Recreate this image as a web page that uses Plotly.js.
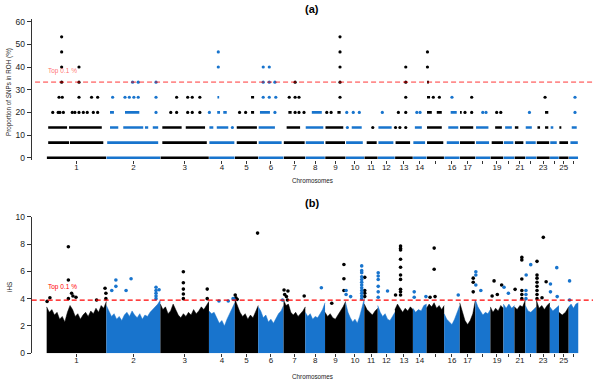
<!DOCTYPE html>
<html>
<head>
<meta charset="utf-8">
<script src="https://cdn.plot.ly/plotly-3.0.1.min.js"></script>
<style>
  body { margin: 0; background: #fff; }
  #plot { width: 600px; height: 382px; }
</style>
</head>
<body>
<div id="plot"></div>
<script>
// Chromosomes (sheep autosomes), lengths in Mb
const chroms = ['1','2','3','4','5','6','7','8','9','10','11','12','13','14','15','16','17','18','19','20','21','22','23','24','25','26'];
const chromLen = [275, 249, 224, 119, 108, 117, 100, 91, 95, 86, 62, 79, 83, 63, 81, 72, 72, 69, 60, 51, 50, 51, 62, 42, 45, 44];
const tickText = ['1','2','3','4','5','6','7','8','9','10','11','12','13','14','','16','17','','19','','21','','23','','25',''];

// (a) ROH proportion levels (%) and runs of SNPs at each level, [start, end] in cumulative Mb
const roh0 = [[1,274],[276,523],[525,747],[749,866],[868,974],[976,1091],[1093,1191],[1193,1282],[1284,1377],[1379,1463],[1465,1525],[1527,1604],[1606,1687],[1689,1750],[1752,1831],[1833,1903],[1905,1975],[1977,2044],[2046,2104],[2106,2155],[2157,2205],[2207,2256],[2258,2318],[2320,2360],[2362,2405],[2407,2449]];
const roh667 = [[7,103],[107,261],[279,514],[533,738],[750,865],[876,969],[977,1083],[1093,1189],[1194,1278],[1285,1375],[1380,1457],[1475,1521],[1529,1598],[1608,1675],[1690,1744],[1753,1828],[1844,1901],[1905,1973],[1979,2039],[2051,2103],[2107,2151],[2158,2197],[2208,2254],[2259,2316],[2321,2351],[2363,2403],[2414,2448]];
const roh1333 = [[7,94],[103,254],[292,330],[353,445],[453,468],[489,514],[533,622],[641,730],[750,768],[784,837],[856,856],[876,969],[977,1052],[1106,1168],[1194,1275],[1285,1367],[1386,1386],[1406,1452],[1503,1503],[1529,1590],[1608,1608],[1628,1628],[1655,1655],[1697,1729],[1753,1821],[1851,1897],[1905,1966],[1979,2036],[2067,2098],[2113,2144],[2158,2174],[2208,2236],[2262,2274],[2297,2312],[2323,2335],[2363,2372],[2420,2443]];
const roh20 = [[28,28],[53,53],[61,61],[77,77],[118,118],[130,130],[149,149],[169,169],[187,187],[215,215],[235,235],
  [292,310],[361,427],[504,504],[572,572],[599,599],[650,650],[671,671],[706,706],
  [750,750],[786,799],[814,830],[889,889],[917,917],[942,956],[983,1029],[1052,1052],
  [1114,1129],[1145,1145],[1163,1163],[1186,1186],[1222,1268],[1291,1291],[1311,1311],[1340,1355],
  [1383,1383],[1413,1413],[1441,1441],[1547,1547],[1621,1621],[1655,1655],[1706,1706],[1721,1721],
  [1753,1775],[1798,1821],[1862,1890],[1905,1913],[1928,1928],[1959,1959],[2010,2010],[2025,2025],
  [2074,2074],[2093,2093],[2225,2225],[2297,2312],[2435,2435]];
const roh2667 = [[57,57],[72,72],[149,149],[207,207],[235,235],[304,304],[361,361],[381,381],[402,402],[422,422],[504,504],
  [599,599],[650,650],[671,671],[706,706],[787,795],[942,956],[998,998],[1026,1026],[1056,1056],
  [1118,1118],[1145,1145],[1163,1163],[1352,1352],[1655,1655],[1753,1767],[1782,1782],[1810,1810],
  [1868,1868],[1959,1959],[2297,2297],[2435,2435]];
const roh3333 = [[69,69],[149,149],[396,396],[422,422],[504,504],[998,998],[1026,1026],[1052,1052],[1145,1145],[1352,1352],[1655,1655],[1753,1762]];
const roh40 = [[69,69],[149,149],[791,791],[998,998],[1026,1026],[1352,1352],[1655,1655],[1755,1755]];
const roh4667 = [[69,69],[791,791],[1352,1352],[1755,1755]];
const roh5333 = [[69,69],[1352,1352]];
const rohLevels = [0, 6.67, 13.33, 20, 26.67, 33.33, 40, 46.67, 53.33];
const rohRuns = [roh0, roh667, roh1333, roh20, roh2667, roh3333, roh40, roh4667, roh5333];
const rohTop = 33.33;

// (b) iHS: upper edge of the dense cloud per chromosome (evenly spaced along each chromosome)
const ihsCore = [
  [3.4, 3.0, 3.2, 2.8, 3.0, 2.5, 2.7, 2.3, 3.0, 3.5, 3.2, 2.7, 2.9, 2.5, 2.8, 3.0, 2.7, 3.1, 2.9, 3.3, 3.0, 3.5, 3.3, 3.8],
  [3.5, 3.1, 2.7, 2.9, 2.5, 2.7, 2.4, 2.8, 3.0, 2.7, 3.1, 2.8, 2.6, 2.9, 2.5, 2.8, 2.7, 3.0, 3.2, 3.4, 3.6, 3.9],
  [3.6, 3.2, 3.4, 2.9, 3.1, 3.6, 3.2, 2.8, 2.6, 2.9, 2.7, 3.0, 2.8, 3.2, 2.9, 3.1, 3.4, 3.2, 3.5, 3.8],
  [3.1, 2.9, 3.0, 2.6, 2.2, 2.4, 2.0, 2.5, 2.9, 3.3, 3.7],
  [4.0, 3.5, 3.0, 2.7, 2.9, 2.5, 2.8, 2.6, 3.0, 3.5],
  [3.4, 3.1, 2.6, 2.8, 2.3, 2.5, 2.2, 2.6, 2.9, 3.1, 3.5],
  [3.9, 3.5, 3.6, 3.0, 2.8, 3.0, 2.7, 2.9, 3.1, 3.4],
  [3.0, 2.7, 2.9, 2.5, 2.7, 2.6, 2.9, 3.2, 3.7],
  [3.0, 2.7, 2.9, 2.6, 2.5, 2.8, 3.0, 3.4, 3.8],
  [3.7, 3.0, 2.6, 2.3, 2.5, 2.2, 2.7, 3.3, 4.0],
  [3.6, 3.2, 3.0, 2.8, 3.1, 3.3],
  [3.5, 3.0, 2.7, 2.9, 2.5, 2.4, 2.7, 3.0],
  [3.2, 3.6, 3.3, 3.0, 3.3, 3.1, 3.4, 3.2],
  [3.3, 3.0, 3.2, 3.1, 3.5, 3.6],
  [3.3, 3.6, 3.4, 3.7, 3.3, 3.5, 3.2, 3.5],
  [2.9, 2.5, 2.3, 2.1, 2.5, 3.0, 3.5],
  [3.7, 3.0, 2.4, 2.1, 2.4, 2.9, 3.9],
  [3.9, 3.4, 3.1, 2.8, 3.0, 2.9, 3.2],
  [3.4, 3.0, 3.3, 3.1, 3.5, 3.3],
  [3.6, 3.3, 3.6, 3.3, 3.5],
  [3.4, 3.2, 3.5, 3.4, 3.9],
  [3.5, 3.1, 3.0, 3.2, 3.4],
  [3.9, 3.3, 3.5, 3.2, 3.5, 3.7],
  [3.4, 3.1, 3.3, 3.5],
  [3.0, 2.8, 3.0, 3.4],
  [3.4, 3.6, 3.3, 3.6, 3.7]
];
// iHS outliers above the cloud, [cumulative Mb, iHS]
const ihsPeaks = [
  [2,3.8],[15,4.07],[100,7.8],[100,5.37],[100,4.0],[115,4.4],[121,4.2],[135,4.1],[230,3.9],[269,4.76],[273,4.4],[273,4.0],
  [300,4.6],[319,5.37],[319,4.9],[366,4.6],[389,5.46],[504,4.83],[504,4.6],[504,4.4],[504,4.2],[504,4.0],[518,4.65],
  [630,5.97],[630,5.17],[630,4.7],[630,4.34],[630,4.0],[740,4.7],[740,4.0],
  [794,3.83],[837,3.83],[859,4.0],[863,3.95],
  [869,4.27],[872,4.07],[878,3.95],[972,8.8],
  [1087,3.9],
  [1094,4.63],[1112,4.56],[1097,4.3],[1105,4.15],[1110,3.9],[1187,4.2],
  [1266,4.8],
  [1314,3.66],[1370,6.5],[1370,5.46],[1370,4.6],
  [1380,4.6],[1380,4.3],[1401,4.15],[1452,6.4],[1452,6.05],[1452,5.9],[1452,5.6],[1452,5.4],[1452,5.2],[1452,5.0],[1452,4.8],[1452,4.6],[1452,4.4],[1452,4.2],[1452,4.0],
  [1466,5.56],[1466,4.6],[1466,4.4],[1466,4.15],
  [1528,5.9],[1528,5.66],[1528,5.4],[1528,4.9],[1528,4.5],[1528,4.1],[1571,4.56],
  [1608,4.27],[1631,7.85],[1631,7.68],[1631,7.56],[1631,6.88],[1631,6.3],[1631,5.73],[1631,5.41],[1631,4.68],[1631,4.51],[1631,4.27],
  [1694,4.5],[1694,4.1],[1748,4.15],
  [1786,7.7],[1786,6.15],[1790,4.15],[1767,4.1],
  [1897,4.27],
  [1966,5.5],[1966,5.2],[1966,4.5],
  [1978,5.97],[1978,5.73],[1978,5.0],[2001,4.6],
  [2062,5.3],[2053,4.2],[2077,4.3],[2097,5.0],
  [2108,4.83],[2128,4.4],
  [2159,4.68],[2190,7.02],[2190,6.83],[2190,5.44],[2190,4.6],[2190,4.3],[2190,4.0],
  [2210,5.73],[2231,6.49],[2209,4.6],[2209,4.3],[2209,4.0],
  [2260,6.73],[2260,5.73],[2260,5.5],[2260,5.2],[2260,4.9],[2260,4.6],[2260,4.3],[2260,4.0],[2289,8.49],[2302,5.24],[2283,4.07],
  [2322,5.07],[2322,4.5],[2351,6.27],[2353,4.15],
  [2410,5.3],[2410,3.9]
];
const ihsTop = 3.9;

const BLACK = '#000000';
const BLUE = '#1874CD';
const FONT = 'Liberation Sans, Arial, sans-serif';

// chromosome starts and centres
const chromStart = [];
let acc = 0;
chromLen.forEach(l => { chromStart.push(acc); acc += l; });
const chromMid = chromLen.map((l, i) => chromStart[i] + l / 2);

function chromOf(pos) {
  let i = 0;
  while (i < chromLen.length - 1 && pos >= chromStart[i + 1]) i++;
  return i;
}
const colorOf = pos => (chromOf(pos) % 2 === 0 ? BLACK : BLUE);

const traces = [];

// ---- panel (a)
const segs = { [BLACK]: { x: [], y: [] }, [BLUE]: { x: [], y: [] } };
const pts = { [BLACK]: { x: [], y: [] }, [BLUE]: { x: [], y: [] } };
rohRuns.forEach((runs, k) => {
  const lvl = rohLevels[k];
  runs.forEach(([s, e]) => {
    const c = colorOf(s);
    if (e - s < 2) {
      pts[c].x.push((s + e) / 2); pts[c].y.push(lvl);
    } else {
      segs[c].x.push(s, e, null); segs[c].y.push(lvl, lvl, null);
    }
  });
});
[BLACK, BLUE].forEach(c => {
  traces.push({ x: segs[c].x, y: segs[c].y, xaxis: 'x', yaxis: 'y', type: 'scatter', mode: 'lines',
    line: { color: c, width: 2.6 }, connectgaps: false, hoverinfo: 'skip' });
  traces.push({ x: pts[c].x, y: pts[c].y, xaxis: 'x', yaxis: 'y', type: 'scatter', mode: 'markers',
    marker: { color: c, size: 3.2, line: { width: 0 } }, cliponaxis: false, hoverinfo: 'skip' });
});

// ---- panel (b)
ihsCore.forEach((h, i) => {
  const n = h.length;
  const xs = h.map((_, j) => chromStart[i] + chromLen[i] * j / (n - 1));
  const c = i % 2 === 0 ? BLACK : BLUE;
  traces.push({ x: xs, y: h, xaxis: 'x2', yaxis: 'y2', type: 'scatter', mode: 'lines',
    line: { color: c, width: 0.5 }, fill: 'tozeroy', fillcolor: c, hoverinfo: 'skip' });
});
[BLACK, BLUE].forEach(c => {
  const sel = ihsPeaks.filter(p => colorOf(p[0]) === c);
  traces.push({ x: sel.map(p => p[0]), y: sel.map(p => p[1]), xaxis: 'x2', yaxis: 'y2', type: 'scatter', mode: 'markers',
    marker: { color: c, size: 3.6, line: { width: 0 } }, cliponaxis: false, hoverinfo: 'skip' });
});

const xDomain = [31.7 / 600, 593 / 600];
const xRange = [-69, 2518];
const py = px => (382 - px) / 382;   // page pixel row -> paper fraction

const xAxisBase = {
  domain: xDomain, range: xRange, showgrid: false, zeroline: false, showline: false,
  tickvals: chromMid, ticktext: tickText, ticks: 'outside', ticklen: 3, tickwidth: 1, tickcolor: '#333',
  ticklabelstandoff: -4,
  tickfont: { family: FONT, size: 8, color: '#222' }, fixedrange: true
};
const yAxisBase = {
  showgrid: false, zeroline: false, showline: true, linecolor: '#333', linewidth: 1,
  ticks: 'outside', ticklen: 4, tickwidth: 1, tickcolor: '#333',
  tickfont: { family: FONT, size: 8.5, color: '#222' }, fixedrange: true
};

const ann = (text, xpx, ypx, size, color, extra) => Object.assign({
  text, xref: 'paper', yref: 'paper', x: xpx / 600, y: py(ypx), xanchor: 'center', yanchor: 'middle',
  showarrow: false, font: { family: FONT, size, color }
}, extra || {});

const layout = {
  width: 600, height: 382,
  margin: { l: 0, r: 0, t: 0, b: 0 },
  paper_bgcolor: '#fff', plot_bgcolor: '#fff',
  showlegend: false, hovermode: false,
  xaxis: { ...xAxisBase, anchor: 'y' },
  xaxis2: { ...xAxisBase, anchor: 'y2' },
  yaxis: { ...yAxisBase, anchor: 'x', domain: [py(160), py(19.4)], range: [-1, 61], tickvals: [0, 10, 20, 30, 40, 50, 60] },
  yaxis2: { ...yAxisBase, anchor: 'x2', domain: [py(353.3), py(216.7)], range: [0, 10], tickvals: [0, 2, 4, 6, 8, 10] },
  shapes: [
    { type: 'line', xref: 'x domain', yref: 'y', x0: 0.006, x1: 1, y0: rohTop, y1: rohTop, layer: 'above',
      line: { color: 'rgba(255,0,0,0.45)', width: 1.6, dash: '5px,3px' } },
    { type: 'line', xref: 'x2 domain', yref: 'y2', x0: 0, x1: 1, y0: ihsTop, y1: ihsTop, layer: 'above',
      line: { color: '#ff0000', width: 1.2, dash: '5px,3px' } }
  ],
  annotations: [
    ann('<b>(a)</b>', 312, 9, 11, '#000'),
    ann('<b>(b)</b>', 312, 203, 11, '#000'),
    ann('Top 0.1 %', 62, 71, 6.5, 'rgba(255,0,0,0.6)'),
    ann('Top 0.1 %', 62, 287, 6.5, '#ff0000'),
    ann('Chromosomes', 312, 180, 6.3, '#222'),
    ann('Chromosomes', 312, 376, 6.3, '#222'),
    ann('Proportion of SNPs in ROH (%)', 9, 92, 6.3, '#222', { textangle: -90 }),
    ann('iHS', 9, 287, 6.3, '#222', { textangle: -90 })
  ]
};

Plotly.newPlot('plot', traces, layout, { staticPlot: true, displayModeBar: false });
</script>
</body>
</html>
